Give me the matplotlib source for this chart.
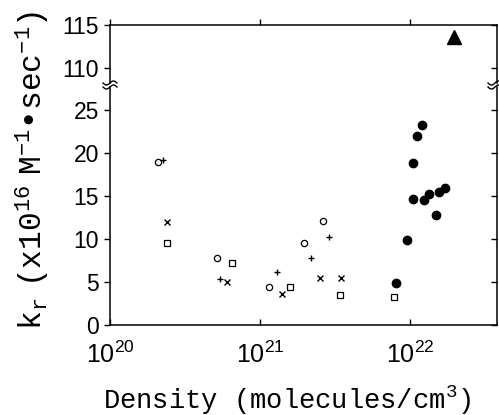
import numpy as np
import matplotlib
matplotlib.use("Agg")
from matplotlib import pyplot as plt
from matplotlib.lines import Line2D
from matplotlib.font_manager import FontProperties

# data (density in molecules/cm^3, k_r in 1e16 M^-1 s^-1)
circ_x = [2.1e20, 5.2e20, 1.15e21, 1.96e21, 2.62e21]
circ_y = [19.0, 7.8, 4.4, 9.5, 12.1]
plus_x = [2.25e20, 5.4e20, 1.29e21, 2.2e21, 2.88e21]
plus_y = [19.2, 5.35, 6.2, 7.8, 10.2]
cross_x = [2.4e20, 6.0e20, 1.41e21, 2.5e21, 3.47e21]
cross_y = [12.0, 5.0, 3.6, 5.5, 5.5]
sq_x = [2.4e20, 6.5e20, 1.58e21, 3.4e21, 7.8e21]
sq_y = [9.5, 7.2, 4.4, 3.5, 3.3]
dot_x = [8.1e21, 9.6e21, 1.05e22, 1.05e22, 1.12e22, 1.2e22,
         1.23e22, 1.34e22, 1.49e22, 1.55e22, 1.70e22]
dot_y = [4.9, 9.9, 14.65, 18.8, 22.0, 23.3, 14.5, 15.2, 12.8, 15.5, 15.9]
tri_x = [1.95e22]
tri_y = [113.6]

xticks = [1e20, 1e21, 1e22]
xticklabels = [r"$\mathregular{10^{20}}$", r"$\mathregular{10^{21}}$",
               r"$\mathregular{10^{22}}$"]
yticks_lo = [0, 5, 10, 15, 20, 25]
yticks_hi = [110, 115]

W, H = 499, 415
fig = plt.figure(figsize=(W / 100, H / 100), dpi=100)

left = 110 / W
width = 387 / W
ax_lo = fig.add_axes([left, (H - 325) / H, width, (325 - 87) / H])
ax_hi = fig.add_axes([left, (H - 83) / H, width, (83 - 25) / H])

tick_fp = FontProperties(family="Liberation Sans", size=16.5)

for ax in (ax_lo, ax_hi):
    ax.set_xscale("log")
    ax.set_xlim(1e20, 3.8e22)
    ax.minorticks_off()
    for s in ax.spines.values():
        s.set_linewidth(1.1)
    ax.tick_params(axis="y", length=4, width=1.0, pad=4, right=False)
    ax.tick_params(axis="x", length=4, width=1.0)
    ax.patch.set_alpha(0)

# lower panel
ax_lo.set_ylim(0, 27.67)
ax_lo.set_yticks(yticks_lo)
ax_lo.spines["top"].set_visible(False)
ax_lo.tick_params(axis="y", direction="out")
ax_lo.tick_params(axis="x", direction="in", top=False, pad=12)
ax_lo.set_xticks(xticks)
ax_lo.set_xticklabels(xticklabels)
for lab in ax_lo.get_xticklabels() + ax_lo.get_yticklabels():
    lab.set_fontproperties(tick_fp)
for lab in ax_lo.get_xticklabels():
    lab.set_fontsize(18)

# right side ticks point inward
ax_lo_r = ax_lo.secondary_yaxis("right")
ax_lo_r.set_yticks(yticks_lo)
ax_lo_r.tick_params(direction="in", length=4, width=1.0, labelright=False)
ax_lo_r.spines["right"].set_visible(False)

# upper panel
ax_hi.set_ylim(108.26, 115)
ax_hi.set_yticks(yticks_hi)
ax_hi.spines["bottom"].set_visible(False)
ax_hi.tick_params(axis="y", direction="out")
ax_hi.tick_params(axis="x", direction="out", top=True, bottom=False,
                  labelbottom=False, labeltop=False)
ax_hi.set_xticks(xticks)
for lab in ax_hi.get_yticklabels():
    lab.set_fontproperties(tick_fp)
ax_hi_r = ax_hi.secondary_yaxis("right")
ax_hi_r.set_yticks(yticks_hi)
ax_hi_r.tick_params(direction="in", length=4, width=1.0, labelright=False)
ax_hi_r.spines["right"].set_visible(False)

# markers
ax_lo.plot(circ_x, circ_y, "o", ms=4.5, mfc="white", mec="black", mew=0.9)
ax_lo.plot(plus_x, plus_y, "+", ms=5, mec="black", mew=1.0)
ax_lo.plot(cross_x, cross_y, "x", ms=4, mec="black", mew=1.0)
ax_lo.plot(sq_x, sq_y, "s", ms=4, mfc="white", mec="black", mew=0.9)
ax_lo.plot(dot_x, dot_y, "o", ms=6, color="black")
ax_hi.plot(tri_x, tri_y, "^", ms=10, color="black")

# break marks on both spines
def squiggle(xc, yc):
    t = np.linspace(-1, 1, 30)
    xs = xc + t * 7 / W
    ys = yc + np.sin(t * np.pi) * 2.0 / H
    fig.add_artist(Line2D(xs, ys, color="black", lw=1.0))

top_lo = ax_lo.get_position().y1
bot_hi = ax_hi.get_position().y0
for xc in (ax_lo.get_position().x0, ax_lo.get_position().x1 - 2 / W):
    squiggle(xc, top_lo)
    squiggle(xc, bot_hi)

# labels
fig.text(287 / W, 1 - 400 / H, r"Density (molecules/cm$\mathregular{^3}$)",
         family="Liberation Mono", fontsize=19.5, ha="center", va="center")
fig.text(33 / W, 1 - 170 / H,
         r"$\mathregular{k_r\ (x10^{16}\ M^{-1}•sec^{-1})}$",
         family="Liberation Mono", fontsize=22.5, rotation=90,
         ha="center", va="center")

fig.savefig("out.png", dpi=100)
